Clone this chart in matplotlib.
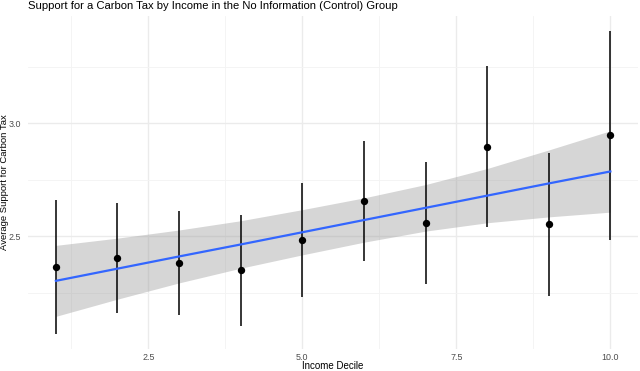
import numpy as np
import matplotlib
matplotlib.use("Agg")
import matplotlib.pyplot as plt
from matplotlib.ticker import MultipleLocator

plt.rcParams['font.family'] = ['Liberation Sans', 'DejaVu Sans']

# Valeurs
decile = [1, 2, 3, 4, 5, 6, 7, 8, 9, 10]
moyenne = [2.363, 2.403, 2.381, 2.350, 2.482, 2.655, 2.558, 2.894, 2.553, 2.947]
ic_bas = [2.066, 2.159, 2.150, 2.102, 2.230, 2.389, 2.288, 2.540, 2.234, 2.482]
ic_haut = [2.659, 2.646, 2.611, 2.593, 2.735, 2.920, 2.827, 3.252, 2.867, 3.407]

# Droite de regression et bande de confiance
ajust = [2.302, 2.356, 2.410, 2.463, 2.517, 2.571, 2.625, 2.679, 2.733, 2.786]
demi_bande = [0.157, 0.135, 0.117, 0.105, 0.100, 0.098, 0.103, 0.120, 0.148, 0.180]

ajust = np.array(ajust)
demi_bande = np.array(demi_bande)

fig = plt.figure(figsize=(6.4, 3.71), dpi=100)
ax = fig.add_axes([0.044, 0.059, 0.953, 0.898])

ax.fill_between(decile, ajust - demi_bande, ajust + demi_bande,
                color='#999999', alpha=0.4, linewidth=0, zorder=2)
ax.vlines(decile, ic_bas, ic_haut, color='black', linewidth=1.1, zorder=3)
ax.plot(decile, ajust, color='#3366FF', linewidth=1.6, zorder=4)
ax.scatter(decile, moyenne, s=28, color='black', zorder=5, linewidths=0)

ax.set_xlim(0.55, 10.45)
ax.set_ylim(2.0, 3.474)
ax.xaxis.set_minor_locator(MultipleLocator(1.25))
ax.yaxis.set_minor_locator(MultipleLocator(0.25))
ax.set_xticks([2.5, 5.0, 7.5, 10.0])
ax.set_xticklabels(['2.5', '5.0', '7.5', '10.0'])
ax.set_yticks([2.5, 3.0])
ax.set_yticklabels(['2.5', '3.0'])

ax.grid(True, which='major', color='#ebebeb', linewidth=1.0, zorder=0)
ax.grid(True, which='minor', color='#f3f3f3', linewidth=0.6, zorder=0)
ax.set_axisbelow(True)
for s in ax.spines.values():
    s.set_visible(False)
ax.tick_params(which='both', length=0, labelsize=6.4, colors='#4d4d4d')
ax.tick_params(axis='y', pad=5)
ax.tick_params(axis='x', pad=3)

ax.set_xlabel("Income Decile", fontsize=7, va='center')
ax.xaxis.set_label_coords(0.5, -0.052)
ax.set_ylabel("Average Support for Carbon Tax", fontsize=6.8, va='center')
ax.yaxis.set_label_coords(-0.039, 0.5)
ax.set_title("Support for a Carbon Tax by Income in the No Information (Control) Group",
             fontsize=8.15, loc='left', pad=5)

plt.savefig("out.png", dpi=100)
